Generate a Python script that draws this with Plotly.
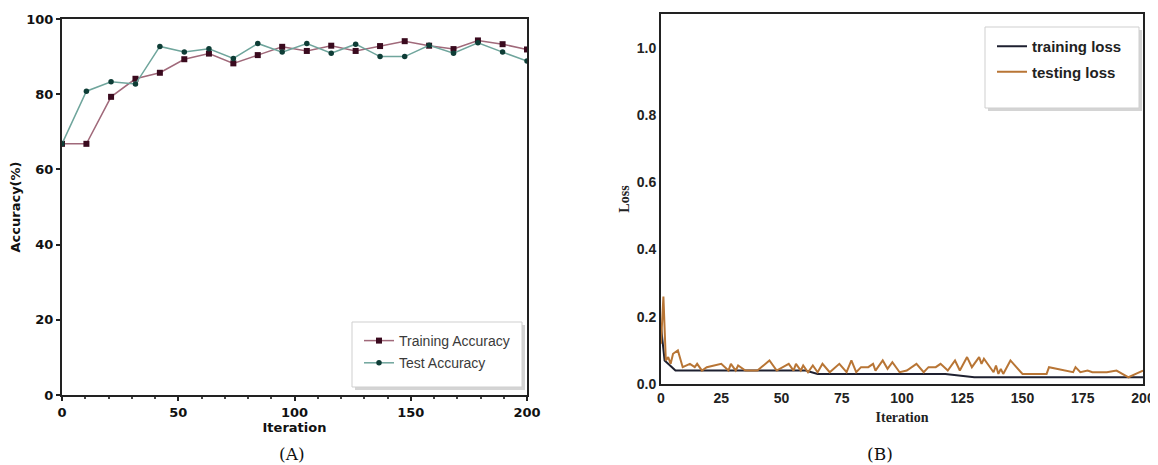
import plotly.graph_objects as go

# ---------- Data ----------
acc_iter = [0, 10.5, 21.1, 31.6, 42.1, 52.6, 63.2, 73.7, 84.2, 94.7,
            105.3, 115.8, 126.3, 136.8, 147.4, 157.9, 168.4, 178.9, 189.5, 200]
train_acc = [66.8, 66.8, 79.3, 84.1, 85.7, 89.3, 90.8, 88.2, 90.4, 92.6,
             91.5, 92.9, 91.5, 92.8, 94.1, 92.9, 92.0, 94.3, 93.3, 91.9]
test_acc = [66.8, 80.8, 83.3, 82.7, 92.7, 91.2, 92.1, 89.5, 93.5, 91.2,
            93.5, 90.9, 93.3, 90.0, 90.0, 93.0, 90.9, 93.7, 91.2, 88.8]

train_loss_x = [0, 1.5, 6, 60, 65, 118, 130, 200]
train_loss_y = [0.17, 0.07, 0.04, 0.04, 0.03, 0.03, 0.02, 0.02]

test_loss_x = [0, 1, 2, 3, 4, 5, 7, 9, 12, 14,
               15, 17, 19, 25, 28, 29, 31, 32, 35, 40,
               45, 48, 53, 55, 56, 58, 59, 61, 63, 65,
               67, 70, 74, 77, 79, 81, 83, 86, 88, 89,
               92, 94, 96, 99, 102, 106, 109, 111, 114, 116,
               119, 122, 124, 127, 129, 132, 133, 134, 136, 138,
               139, 140, 141, 142, 145, 150, 160, 161, 171, 172,
               174, 177, 179, 185, 189, 194, 197, 200]
test_loss_y = [0.12, 0.26, 0.07, 0.08, 0.06, 0.09, 0.10, 0.05, 0.06, 0.05,
               0.06, 0.04, 0.05, 0.06, 0.04, 0.06, 0.04, 0.055, 0.04, 0.04,
               0.07, 0.04, 0.06, 0.04, 0.06, 0.04, 0.055, 0.035, 0.055, 0.035,
               0.06, 0.035, 0.06, 0.035, 0.07, 0.035, 0.05, 0.05, 0.06, 0.04,
               0.07, 0.045, 0.065, 0.035, 0.04, 0.06, 0.035, 0.05, 0.05, 0.06,
               0.04, 0.07, 0.04, 0.08, 0.05, 0.08, 0.06, 0.075, 0.055, 0.035,
               0.055, 0.03, 0.045, 0.03, 0.07, 0.03, 0.03, 0.05, 0.035, 0.05,
               0.035, 0.04, 0.035, 0.035, 0.04, 0.02, 0.03, 0.04]

left_xticks = [0, 50, 100, 150, 200]
left_yticks = [0, 20, 40, 60, 80, 100]
right_xticks = [0, 25, 50, 75, 100, 125, 150, 175, 200]
right_yticks = [0.0, 0.2, 0.4, 0.6, 0.8, 1.0]

# the page body has an 8px margin, so the figure starts at (8, 8) on screen
OFF = 8
W, H = 1158 - OFF, 465 - OFF
def px(x):
    return (x - OFF) / W
def py(y):
    return 1 - (y - OFF) / H

fig = go.Figure()

fig.add_trace(go.Scatter(
    x=acc_iter, y=train_acc, name="Training Accuracy", mode="lines+markers",
    line=dict(color="#a0697a", width=1.5),
    marker=dict(symbol="square", size=6, color="#3a0a1e"),
    xaxis="x", yaxis="y", legend="legend", legendgroup="a1"))
fig.add_trace(go.Scatter(
    x=acc_iter, y=test_acc, name="Test Accuracy", mode="lines+markers",
    line=dict(color="#6fa59c", width=1.5),
    marker=dict(symbol="circle", size=5.5, color="#0e3d36"),
    xaxis="x", yaxis="y", legend="legend", legendgroup="a2"))

fig.add_trace(go.Scatter(
    x=train_loss_x, y=train_loss_y, name="training loss", mode="lines",
    line=dict(color="#1e2030", width=2),
    xaxis="x2", yaxis="y2", legend="legend2", legendgroup="b1"))
fig.add_trace(go.Scatter(
    x=test_loss_x, y=test_loss_y, name="testing loss", mode="lines",
    line=dict(color="#b87535", width=2),
    xaxis="x2", yaxis="y2", legend="legend2", legendgroup="b2"))

sans = "DejaVu Sans"
narrow = "Liberation Sans Narrow, Liberation Sans"
ax_common = dict(showgrid=False, zeroline=False, showline=True, linecolor="#222",
                 linewidth=2, mirror=True, automargin=False)

def box(x0, y0, x1, y1, fill, line_color, lw):
    return dict(type="rect", xref="paper", yref="paper", layer="above",
                x0=px(x0), x1=px(x1), y0=py(y1), y1=py(y0),
                fillcolor=fill, line=dict(color=line_color, width=lw))

shapes = [
    # legend box shadows + boxes
    box(355, 325, 525, 390, "#d4d4d4", "rgba(0,0,0,0)", 0),
    box(352, 322, 522, 387, "white", "#cfcfcf", 1),
    box(988, 30, 1142, 111, "#d4d4d4", "rgba(0,0,0,0)", 0),
    box(985, 27, 1139, 108, "white", "#cfcfcf", 1),
]

fig.update_layout(
    width=W, height=H, autosize=False,
    margin=dict(l=0, r=0, t=0, b=0, pad=0, autoexpand=False),
    paper_bgcolor="white", plot_bgcolor="white",
    showlegend=True,
    shapes=shapes,
    xaxis=dict(**ax_common, domain=[px(62), px(527)], range=[0, 200],
               tickvals=left_xticks, ticks="outside", ticklen=4, tickwidth=1.5,
               tickcolor="#222",
               minor=dict(ticks="outside", dtick=10, ticklen=2, tickcolor="#444"),
               tickfont=dict(family=sans, size=13, color="#111", weight="bold"),
               title=dict(text="Iteration", standoff=2,
                          font=dict(family=sans, size=13, color="#111", weight="bold")),
               anchor="y"),
    yaxis=dict(**ax_common, domain=[py(395), py(19)], range=[0, 100],
               tickvals=left_yticks, ticks="outside", ticklen=4, tickwidth=1.5,
               tickcolor="#222",
               tickfont=dict(family=sans, size=13, color="#111", weight="bold"),
               title=dict(text="Accuracy(%)", standoff=3,
                          font=dict(family=sans, size=13, color="#111", weight="bold")),
               anchor="x"),
    xaxis2=dict(**ax_common, domain=[px(661), px(1143)], range=[0, 200],
                tickvals=right_xticks, ticks="",
                tickfont=dict(family=narrow, size=14, color="#222", weight="bold"),
                title=dict(text="Iteration", standoff=7,
                           font=dict(family="Liberation Serif", size=14, color="#222",
                                     weight="bold")),
                anchor="y2"),
    yaxis2=dict(**ax_common, domain=[py(384), py(14)], range=[0, 1.1],
                tickvals=right_yticks, tickformat=".1f", ticks="",
                tickfont=dict(family=narrow, size=14, color="#222", weight="bold"),
                title=dict(text="Loss", standoff=4,
                           font=dict(family="Liberation Serif", size=14, color="#222",
                                     weight="bold")),
                anchor="x2"),
    legend=dict(x=px(359), y=py(325), xanchor="left", yanchor="top",
                bgcolor="rgba(0,0,0,0)", borderwidth=0,
                font=dict(family="Liberation Sans", size=14, color="#3a3a3a"),
                itemwidth=30, tracegroupgap=1),
    legend2=dict(x=px(992), y=py(30), xanchor="left", yanchor="top",
                 bgcolor="rgba(0,0,0,0)", borderwidth=0,
                 font=dict(family=narrow, size=15, color="#222", weight="bold"),
                 itemwidth=30, tracegroupgap=3),
    annotations=[
        dict(text="(A)", x=px(292), y=py(454), xref="paper", yref="paper",
             xanchor="center", yanchor="middle", showarrow=False,
             font=dict(family="DejaVu Serif", size=17, color="#111")),
        dict(text="(B)", x=px(880), y=py(454), xref="paper", yref="paper",
             xanchor="center", yanchor="middle", showarrow=False,
             font=dict(family="DejaVu Serif", size=17, color="#111")),
    ],
)

fig.write_html("out.html")
